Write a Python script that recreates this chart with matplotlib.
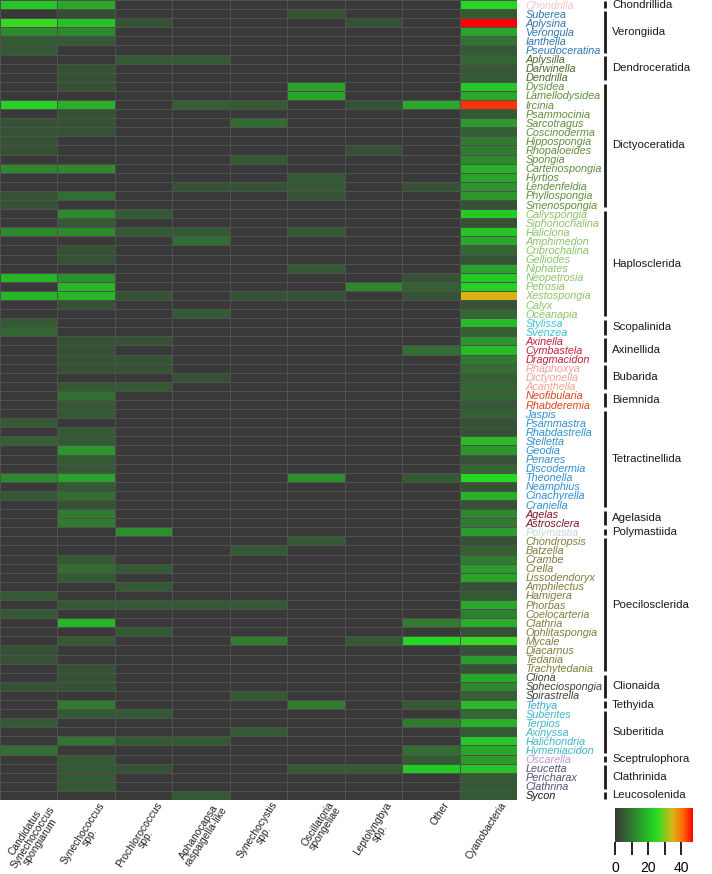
import matplotlib
matplotlib.use("Agg")
import matplotlib.pyplot as plt
import numpy as np
from matplotlib.colors import LinearSegmentedColormap
from matplotlib.transforms import blended_transform_factory, ScaledTranslation

plt.rcParams['font.family'] = ['Liberation Sans', 'DejaVu Sans']

# column labels (cyanobacterial groups)
columns = ['Candidatus\nSynechococcus\nspongiarum', 'Synechococcus\nspp.',
           'Prochlorococcus\nspp.', 'Aphanocapsa\nraspaigella-like',
           'Synechocystis\nspp.', 'Oscillatoria\nspongeliae',
           'Leptolyngbya\nspp.', 'Other', 'Cyanobacteria']

# sponge orders and their genera (top to bottom)
orders = ['Chondrillida', 'Verongiida', 'Dendroceratida', 'Dictyoceratida',
          'Haplosclerida', 'Scopalinida', 'Axinellida', 'Bubarida', 'Biemnida',
          'Tetractinellida', 'Agelasida', 'Polymastiida', 'Poecilosclerida',
          'Clionaida', 'Tethyida', 'Suberitida', 'Sceptrulophora',
          'Clathrinida', 'Leucosolenida']
order_sizes = [1, 5, 3, 14, 12, 2, 3, 3, 2, 11, 2, 1, 15, 3, 1, 5, 1, 3, 1]
order_colors = ['#f6c6cc', '#2f74b0', '#4b6b2b', '#5f8f3c', '#8cc46a',
                '#3cc0d6', '#c0203c', '#f2a592', '#d8461e', '#2f8fd0',
                '#7c1428', '#c4d9df', '#7d7d3c', '#3b4636', '#2fb0d2',
                '#3fb6c8', '#c397dc', '#545276', '#151515']

genera = ['Chondrilla',
          'Suberea', 'Aplysina', 'Verongula', 'Ianthella', 'Pseudoceratina',
          'Aplysilla', 'Darwinella', 'Dendrilla',
          'Dysidea', 'Lamellodysidea', 'Ircinia', 'Psammocinia', 'Sarcotragus',
          'Coscinoderma', 'Hippospongia', 'Rhopaloeides', 'Spongia',
          'Carteriospongia', 'Hyrtios', 'Lendenfeldia', 'Phyllospongia',
          'Smenospongia',
          'Callyspongia', 'Siphonochalina', 'Haliclona', 'Amphimedon',
          'Cribrochalina', 'Gelliodes', 'Niphates', 'Neopetrosia', 'Petrosia',
          'Xestospongia', 'Calyx', 'Oceanapia',
          'Stylissa', 'Svenzea',
          'Axinella', 'Cymbastela', 'Dragmacidon',
          'Rhaphoxya', 'Dictyonella', 'Acanthella',
          'Neofibularia', 'Rhabderemia',
          'Jaspis', 'Psammastra', 'Rhabdastrella', 'Stelletta', 'Geodia',
          'Penares', 'Discodermia', 'Theonella', 'Neamphius', 'Cinachyrella',
          'Craniella',
          'Agelas', 'Astrosclera',
          'Polymastia',
          'Chondropsis', 'Batzella', 'Crambe', 'Crella', 'Lissodendoryx',
          'Amphilectus', 'Hamigera', 'Phorbas', 'Coelocarteria', 'Clathria',
          'Ophlitaspongia', 'Mycale', 'Diacarnus', 'Tedania', 'Trachytedania',
          'Cliona', 'Spheciospongia', 'Spirastrella',
          'Tethya',
          'Suberites', 'Terpios', 'Axinyssa', 'Halichondria', 'Hymeniacidon',
          'Oscarella',
          'Leucetta', 'Pericharax', 'Clathrina',
          'Sycon']

# relative abundance (%) per column, one value per genus
cand_syn = [22, 0, 26, 12, 5, 5, 0, 0, 0, 0, 0, 23, 0, 4, 4, 4, 4, 0, 12, 0, 0, 4,
            4, 0, 0, 12, 0, 0, 0, 0, 19, 0, 19, 0, 0, 5, 7, 0, 0, 0, 0, 0, 0, 0,
            0, 0, 5, 0, 6, 0, 0, 0, 12, 0, 5, 0, 0, 0, 0, 0, 0, 0, 0, 0, 0, 5,
            0, 5, 0, 0, 0, 4, 4, 0, 0, 4, 0, 0, 0, 5, 0, 0, 8, 0, 0, 0, 0, 0]
syn_spp = [17, 3, 21, 12, 5, 0, 0, 4, 4, 4, 0, 18, 4, 4, 4, 0, 0, 0, 12, 0, 0, 8,
           0, 12, 5, 12, 0, 4, 4, 0, 13, 19, 19, 4, 0, 0, 0, 4, 4, 4, 4, 0, 5, 8,
           5, 5, 0, 5, 5, 14, 5, 5, 16, 5, 8, 4, 10, 10, 0, 0, 0, 5, 8, 5, 0, 0,
           5, 0, 19, 0, 5, 0, 0, 4, 4, 4, 0, 10, 5, 0, 0, 9, 0, 5, 5, 5, 5, 0]
prochloro = [0, 0, 4, 0, 0, 0, 5, 0, 0, 0, 0, 0, 0, 0, 0, 0, 0, 0, 0, 0, 0, 0,
             0, 5, 0, 5, 0, 0, 0, 0, 0, 0, 4, 0, 0, 0, 0, 4, 0, 4, 4, 0, 5, 0,
             0, 0, 0, 0, 0, 0, 0, 0, 0, 0, 0, 0, 0, 0, 13, 0, 0, 0, 5, 0, 5, 0,
             5, 0, 0, 5, 0, 0, 0, 0, 0, 0, 0, 0, 5, 0, 0, 5, 0, 0, 4, 0, 0, 0]
aphanocapsa = [0, 0, 0, 0, 0, 0, 5, 0, 0, 0, 0, 6, 0, 0, 0, 0, 0, 0, 0, 0, 4, 0,
               0, 0, 0, 5, 8, 0, 0, 0, 0, 0, 0, 0, 5, 0, 0, 0, 0, 0, 0, 4, 0, 0,
               0, 0, 0, 0, 0, 0, 0, 0, 0, 0, 0, 0, 0, 0, 0, 0, 0, 0, 0, 0, 0, 0,
               5, 0, 0, 0, 0, 0, 0, 0, 0, 0, 0, 0, 0, 0, 0, 5, 0, 0, 0, 0, 0, 5]
synechocystis = [0, 0, 0, 0, 0, 0, 0, 0, 0, 0, 0, 5, 0, 8, 0, 0, 0, 5, 0, 0, 4, 0,
                 0, 0, 0, 0, 0, 0, 0, 0, 0, 0, 4, 0, 0, 0, 0, 0, 0, 0, 0, 0, 0, 0,
                 0, 0, 0, 0, 0, 0, 0, 0, 0, 0, 0, 0, 0, 0, 0, 0, 5, 0, 0, 0, 0, 0,
                 5, 0, 0, 0, 10, 0, 0, 0, 0, 0, 5, 0, 0, 0, 5, 0, 0, 0, 0, 0, 0, 0]
oscillatoria = [0, 4, 0, 0, 0, 0, 0, 0, 0, 16, 16, 0, 0, 0, 0, 0, 0, 0, 0, 5, 5, 4,
                0, 0, 0, 5, 0, 0, 0, 5, 0, 0, 4, 0, 0, 0, 0, 0, 0, 0, 0, 0, 0, 0,
                0, 0, 0, 0, 0, 0, 0, 0, 13, 0, 0, 0, 0, 0, 0, 5, 0, 0, 0, 0, 0, 0,
                0, 0, 0, 0, 0, 0, 0, 0, 0, 0, 0, 10, 0, 0, 0, 0, 0, 0, 5, 0, 0, 0]
leptolyngbya = [0, 0, 4, 0, 0, 0, 0, 0, 0, 0, 0, 4, 0, 0, 0, 0, 4, 0, 0, 0, 0, 0,
                0, 0, 0, 0, 0, 0, 0, 0, 0, 12, 0, 0, 0, 0, 0, 0, 0, 0, 0, 0, 0, 0,
                0, 0, 0, 0, 0, 0, 0, 0, 0, 0, 0, 0, 0, 0, 0, 0, 0, 0, 0, 0, 0, 0,
                0, 0, 0, 0, 5, 0, 0, 0, 0, 0, 0, 0, 0, 0, 0, 0, 0, 0, 5, 0, 0, 0]
other = [0, 0, 0, 0, 0, 0, 0, 0, 0, 0, 0, 17, 0, 0, 0, 0, 0, 0, 0, 0, 4, 0,
         0, 0, 0, 0, 0, 0, 0, 0, 4, 6, 4, 0, 0, 0, 0, 0, 8, 0, 0, 0, 0, 0,
         0, 0, 0, 0, 0, 0, 0, 0, 5, 0, 0, 0, 0, 0, 0, 0, 0, 0, 0, 0, 0, 0,
         0, 0, 10, 0, 24, 0, 0, 0, 0, 0, 0, 5, 0, 10, 0, 0, 8, 5, 22, 0, 0, 0]
cyanobacteria = [24, 5, 47, 16, 9, 5, 7, 5, 5, 22, 17, 44, 5, 15, 6, 10, 10, 12, 18, 16, 14, 14,
                 4, 22, 4, 21, 17, 7, 4, 16, 22, 23, 35, 4, 7, 20, 6, 14, 20, 10, 8, 6, 7, 7,
                 5, 6, 4, 4, 20, 14, 4, 7, 24, 4, 18, 4, 12, 10, 15, 4, 6, 10, 15, 16, 4, 5,
                 17, 11, 18, 4, 26, 4, 15, 4, 17, 12, 6, 20, 7, 18, 5, 22, 17, 15, 21, 5, 5, 5]

M = np.column_stack([cand_syn, syn_spp, prochloro, aphanocapsa, synechocystis,
                     oscillatoria, leptolyngbya, other, cyanobacteria])

cmap = LinearSegmentedColormap.from_list(
    'grn', [(0.0, '#393939'), (0.53, '#22dd22'), (0.74, '#d9b515'),
            (0.87, '#ff6a05'), (1.0, '#ff0000')])

W, H = 712, 874
fig = plt.figure(figsize=(W / 100, H / 100), dpi=100)
ax = fig.add_axes([0, 1 - 800 / H, 517 / W, 800 / H])

mesh = ax.pcolormesh(M, cmap=cmap, vmin=0, vmax=47,
                     edgecolors='#505050', linewidth=0.5)
ax.set_xlim(0, M.shape[1])
ax.set_ylim(M.shape[0], 0)
for s in ax.spines.values():
    s.set_visible(False)

# genus labels on the right, coloured by order
row_colors = []
for c, n in zip(order_colors, order_sizes):
    row_colors += [c] * n
ax.yaxis.tick_right()
ax.set_yticks(np.arange(len(genera)) + 0.5)
ax.set_yticklabels(genera, fontsize=7.8, style='italic')
for lab, c in zip(ax.get_yticklabels(), row_colors):
    lab.set_color(c)
ax.tick_params(axis='y', length=0, pad=6)

# column labels, nudged right of the column centre
ax.set_xticks(np.arange(len(columns)) + 0.5)
ax.set_xticklabels(columns, fontsize=7.4, rotation=57, ha='right', va='top',
                   rotation_mode='anchor', multialignment='center',
                   linespacing=0.82, color='#222222')
ax.tick_params(axis='x', length=0, pad=0)
shift = ScaledTranslation(12 / 100, 0, fig.dpi_scale_trans)
for lab in ax.get_xticklabels():
    lab.set_transform(lab.get_transform() + shift)

# order brackets
trans = blended_transform_factory(fig.transFigure, ax.transData)
start = 0
for name, n in zip(orders, order_sizes):
    y0, y1 = start + 0.2, start + n - 0.2
    if n == 1:
        y0, y1 = start + 0.15, start + 0.85
    ax.plot([605 / W, 605 / W], [y0, y1], transform=trans, clip_on=False,
            color='#1a1a1a', lw=2, solid_capstyle='butt')
    ax.text(612 / W, start + n / 2, name, transform=trans, fontsize=8.2,
            va='center', ha='left', color='#1a1a1a')
    start += n

# colour bar
cax = fig.add_axes([615 / W, 1 - 842 / H, 78 / W, 34 / H])
cb = fig.colorbar(mesh, cax=cax, orientation='horizontal', ticks=[0, 10, 20, 30, 40])
cb.set_ticklabels(['0', '', '20', '', '40'])
cb.outline.set_visible(False)
cax.tick_params(length=9, width=1.2, pad=5, labelsize=10)

fig.savefig('out.png', dpi=100)
